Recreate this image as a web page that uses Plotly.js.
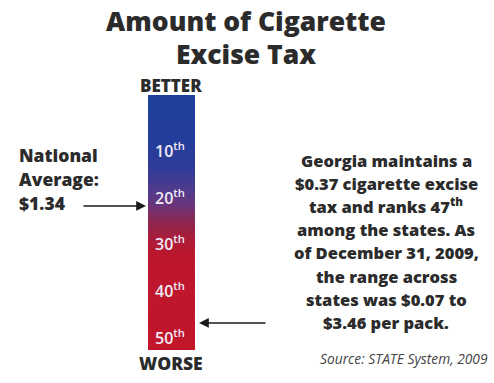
<!DOCTYPE html>
<html><head><meta charset="utf-8">
<script src="https://cdn.plot.ly/plotly-3.0.1.min.js"></script>
<style>html,body{margin:0;padding:0;background:#fff}#chart{width:494px;height:383px}</style>
</head><body><div id="chart"></div>
<script>
// ---- data ----
const rankLabels = [10, 20, 30, 40, 50];
const rankSuffix = ["th", "th", "th", "th", "th"];
const barRankTop = -1.7;      // best end of scale (BETTER)
const barRankBottom = 52.8;   // worst end of scale (WORSE)
const georgiaRank = 47;
const nationalAvgRank = 22;   // position of national average arrow ($1.34)
const nationalAvg = "$1.34";
const titleLines = ["Amount of Cigarette", "Excise Tax"];
const noteLines = ["Georgia maintains a", "$0.37 cigarette excise", "tax and ranks 47<sup>th</sup>",
  "among the states. As", "of December 31, 2009,", "the range across", "states was $0.07 to", "$3.46 per pack."];
const sourceText = "Source: STATE System, 2009";

// ---- layout helpers ----
const W = 494, H = 383;
const pxPerRank = 4.68, rank0Px = 103;
const yTop = -rank0Px / pxPerRank, yBot = (H - rank0Px) / pxPerRank;
const py = p => 1 - p / H;
const barX = [148, 195];
const font = "Open Sans, Lato, sans-serif";
const dark = "#2b2b2b";

const span = barRankBottom - barRankTop;
const f = r => (r - barRankTop) / span;
const bar = {
  type: "scatter", mode: "lines",
  x: [barX[0], barX[1], barX[1], barX[0], barX[0]],
  y: [barRankTop, barRankTop, barRankBottom, barRankBottom, barRankTop],
  line: {width: 0}, fill: "toself", hoverinfo: "skip",
  fillgradient: {
    type: "vertical", start: barRankTop, stop: barRankBottom,
    colorscale: [
      [0, "#1d3f9c"], [f(8), "#233d9b"], [f(14), "#313b97"], [f(19), "#523a8c"],
      [f(22), "#6c3479"], [f(25), "#8a2854"], [f(29), "#ab1c39"], [f(33), "#bd172d"], [1, "#c1152a"]
    ]
  }
};

const F = (size, color, weight) => ({family: font, size: size, color: color || dark, weight: weight || 800});
const ann = [];
titleLines.forEach((t, i) => ann.push({xref: "paper", yref: "paper", x: 246 / W, y: py(21 + i * 33),
  text: t, showarrow: false, font: F(26.5), xanchor: "center", yanchor: "middle"}));
ann.push({xref: "x", yref: "paper", x: 171, y: py(85), text: "BETTER", showarrow: false,
  font: F(17), xanchor: "center", yanchor: "middle"});
ann.push({xref: "x", yref: "paper", x: 171, y: py(363), text: "WORSE", showarrow: false,
  font: F(17.5), xanchor: "center", yanchor: "middle"});
rankLabels.forEach((r, i) => ann.push({xref: "x", yref: "y", x: 170, y: r,
  text: r + "<sup>" + rankSuffix[i] + "</sup>", showarrow: false,
  font: F(16, "#f0ecf6", 600), xanchor: "center", yanchor: "middle"}));
["National", "Average:", nationalAvg].forEach((t, i) => ann.push({xref: "paper", yref: "paper", x: 17 / W, y: py(155 + i * 24),
  text: t, showarrow: false, font: F(17.5), xanchor: "left", yanchor: "middle"}));
ann.push({xref: "x", yref: "y", x: 146, y: nationalAvgRank, ax: 82, ay: nationalAvgRank, axref: "x", ayref: "y",
  text: "", showarrow: true, arrowhead: 2, arrowsize: 1.4, arrowwidth: 1.4, arrowcolor: "#1a1a1a"});
ann.push({xref: "x", yref: "y", x: 199, y: georgiaRank, ax: 267, ay: georgiaRank, axref: "x", ayref: "y",
  text: "", showarrow: true, arrowhead: 2, arrowsize: 1.4, arrowwidth: 1.4, arrowcolor: "#1a1a1a"});
noteLines.forEach((t, i) => ann.push({xref: "paper", yref: "paper", x: 386 / W, y: py(160 + i * 23.2),
  text: t, showarrow: false, font: F(16.5), xanchor: "center", yanchor: "middle"}));
ann.push({xref: "paper", yref: "paper", x: 490 / W, y: py(358), text: "<i>" + sourceText + "</i>", showarrow: false,
  font: F(13.8, "#444", 400), xanchor: "right", yanchor: "middle"});

const layout = {
  width: W, height: H, margin: {l: 0, r: 0, t: 0, b: 0},
  paper_bgcolor: "#fff", plot_bgcolor: "#fff", showlegend: false,
  xaxis: {range: [0, W], visible: false, fixedrange: true},
  yaxis: {range: [yBot, yTop], visible: false, fixedrange: true},
  annotations: ann
};
Plotly.newPlot("chart", [bar], layout, {staticPlot: true, displayModeBar: false});
</script></body></html>
